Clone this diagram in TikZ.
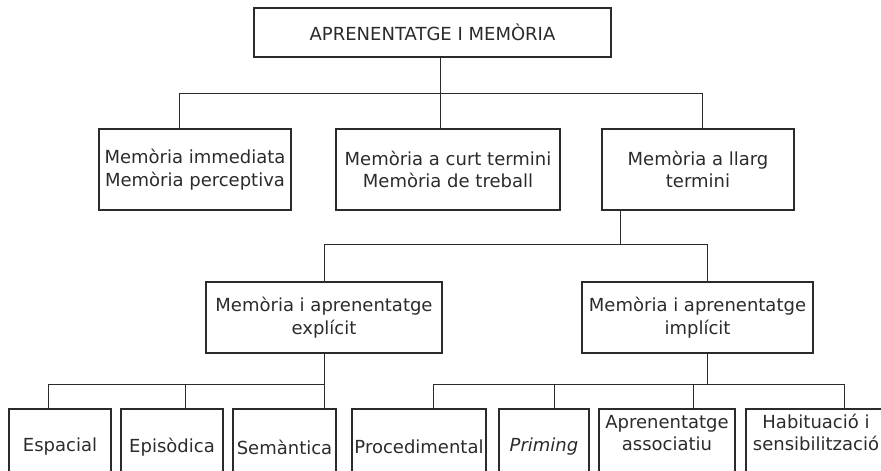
\documentclass[tikz,border=0pt]{standalone}
\usepackage{fontspec}
\setmainfont{DejaVu Sans}
\usepackage{xcolor}
\usetikzlibrary{positioning}
\definecolor{inkgray}{HTML}{2B2B2B}
\newcommand{\liftlines}[1]{\raisebox{12pt}[\height][\depth]{\begin{tabular}{@{}c@{}}#1\end{tabular}}}

\begin{document}
\begin{tikzpicture}[
        x=1pt, y=1pt,
        every node/.style={font=\fontsize{18}{22.5}\selectfont, text=inkgray},
        box/.style={draw=inkgray, line width=1.2pt, rectangle, inner sep=2pt, outer sep=0pt, minimum height=81pt, align=center},
        leaf/.style={box, minimum height=76pt},
        link/.style={draw=inkgray, line width=1pt}
    ]

    \useasboundingbox (0,0) rectangle (881,-471);
    \clip (0,0) rectangle (881,-471);

    \node[box, minimum width=357pt, minimum height=49pt, anchor=north west] (top) at (254,-8) {APRENENTATGE I MEMÒRIA};

    \node[box, minimum width=192pt, anchor=north west] (immediata) at (99,-129) {Memòria immediata\\Memòria perceptiva};
    \node[box, minimum width=224pt, right=45pt of immediata] (curt) {Memòria a curt termini\\Memòria de treball};
    \node[box, minimum width=192pt, right=42pt of curt] (llarg) {Memòria a llarg\\termini};

    \node[box, minimum width=236pt, minimum height=71pt, anchor=north west] (explicit) at (206,-282) {Memòria i aprenentatge\\explícit};
    \node[box, minimum width=231pt, minimum height=71pt, right=140pt of explicit] (implicit) {Memòria i aprenentatge\\implícit};

    \node[leaf, minimum width=102pt, anchor=north west] (espacial) at (9,-409) {Espacial};
    \node[leaf, minimum width=102pt, right=10pt of espacial] (episodica) {Episòdica};
    \node[leaf, minimum width=103pt, right=10pt of episodica] (semantica) {Semàntica};
    \node[leaf, minimum width=134pt, right=16pt of semantica] (procedimental) {Procedimental};
    \node[leaf, minimum width=90pt, right=13pt of procedimental] (priming) {\textit{Priming}};
    \node[leaf, minimum width=136pt, right=10pt of priming] (associatiu) {\liftlines{Aprenentatge\\associatiu}};
    \node[leaf, minimum width=140pt, right=11pt of associatiu] (habituacio) {\liftlines{Habituació i\\sensibilització}};

    \draw[link] ([xshift=7.5pt]top.south) -- ([xshift=-8pt]curt.north);
    \draw[link] ([xshift=-16pt]immediata.north) -- ++(0,36) -| ([xshift=4pt]llarg.north);

    \draw[link] ([xshift=-78pt]llarg.south) -- ++(0,-34);
    \draw[link] (explicit.north) -- ++(0,38) -| ([xshift=9.5pt]implicit.north);

    \draw[link] (explicit.south) -- (explicit.south |- semantica.north);
    \draw[link] ([xshift=-12pt]espacial.north) -- ++(0,25) -| (explicit.south);
    \draw[link] ([xshift=13pt]episodica.north) -- ++(0,25);

    \draw[link] ([xshift=9.5pt]implicit.south) -- ++(0,-31);
    \draw[link] ([xshift=14pt]procedimental.north) -- ++(0,25) -| ([xshift=28pt]habituacio.north);
    \draw[link] ([xshift=10pt]priming.north) -- ++(0,25);
    \draw[link] ([xshift=26pt]associatiu.north) -- ++(0,25);

\end{tikzpicture}
\end{document}
